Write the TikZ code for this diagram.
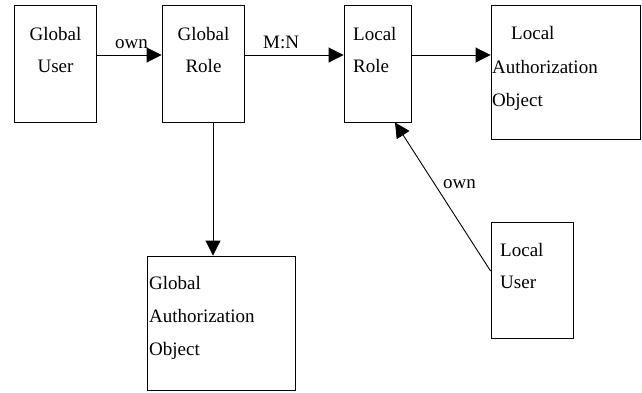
\documentclass[tikz,border=0pt]{standalone}
\usepackage{fontspec}
\setmainfont{Liberation Serif}
\usetikzlibrary{arrows.meta,calc}
\begin{document}
\begin{tikzpicture}[x=1pt,y=-1pt,
  box/.style={draw,line width=0.9pt,inner sep=0pt,rectangle},
  txt/.style={inner sep=0pt,font=\fontsize{19}{33}\selectfont},
  conn/.style={line width=0.9pt,-{Triangle[length=15pt,width=15pt]}}]
\useasboundingbox (0,0) rectangle (642,392);
% boxes
\node[box,minimum width=82pt,minimum height=117pt] (gu) at (55,63.5) {};
\node[box,minimum width=82pt,minimum height=117pt] (gr) at (203,63.5) {};
\node[box,minimum width=67pt,minimum height=117pt] (lr) at (377.5,63.5) {};
\node[box,minimum width=149pt,minimum height=134pt] (lao) at (565.5,72) {};
\node[box,minimum width=148pt,minimum height=134pt] (gao) at (221,323) {};
\node[box,minimum width=82pt,minimum height=116pt] (lu) at (532,280) {};
% texts
\node[txt,anchor=base] (gu1) at (55.5,40) {Global};
\node[txt,anchor=base] (gu2) at (55.5,72) {User};
\node[txt,anchor=base] (gr1) at (203.5,40) {Global};
\node[txt,anchor=base] (gr2) at (203.5,72) {Role};
\node[txt,anchor=base west] (lr1) at (353,40) {Local};
\node[txt,anchor=base west] (lr2) at (353,72) {Role};
\node[txt,anchor=base west] (lao1) at (511,39) {Local};
\node[txt,anchor=base west] (lao2) at (492,73) {Authorization};
\node[txt,anchor=base west] (lao3) at (492,106) {Object};
\node[txt,anchor=base west] (gao1) at (149,289) {Global};
\node[txt,anchor=base west] (gao2) at (149,322) {Authorization};
\node[txt,anchor=base west] (gao3) at (149,355) {Object};
\node[txt,anchor=base west] (lu1) at (500,256) {Local};
\node[txt,anchor=base west] (lu2) at (500,288) {User};
% connectors
\coordinate (lrout) at ([yshift=8.5pt]lr.east);
\draw[conn] ([yshift=8.5pt]gu.east) -- ([yshift=8.5pt]gr.west);
\draw[conn] ([yshift=8.5pt]gr.east) -- ([yshift=8.5pt]lr.west);
\draw[conn] (lrout) -- (lao.west |- lrout);
\draw[conn] ([xshift=10pt]gr.south) -- ([xshift=10pt]gr.south |- gao.north);
\draw[conn] ([yshift=9pt]lu.west) -- ([xshift=17.5pt]lr.south);
% labels
\node[txt,anchor=base west] (own1) at (115,48) {own};
\node[txt,anchor=base west] (mn) at (263,48) {M:N};
\node[txt,anchor=base west] (own2) at (443,188) {own};
\end{tikzpicture}
\end{document}
